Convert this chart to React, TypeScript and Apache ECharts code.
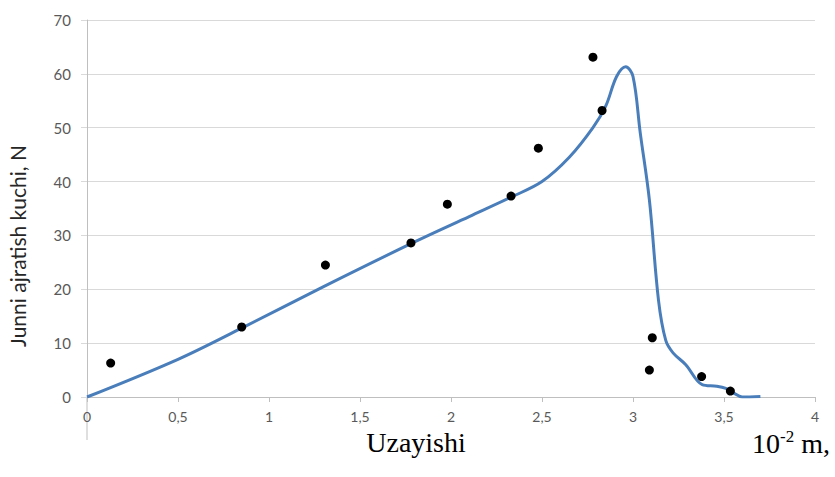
import React, { useEffect, useRef } from "react";
import * as echarts from "echarts";

// Measured points (x in 10^-2 m, force in N)
const pointX = [0.13, 0.85, 1.31, 1.78, 1.98, 2.33, 2.48, 2.78, 2.83, 3.106, 3.09, 3.377, 3.535];
const pointY = [6.3, 13.0, 24.5, 28.6, 35.8, 37.3, 46.2, 63.1, 53.2, 11.0, 5.0, 3.8, 1.1];

// Fitted curve
const curveX = [0, 0.5, 0.85, 1.3, 1.8, 2.1, 2.33, 2.5, 2.65, 2.78, 2.85, 2.91, 2.96, 3.0, 3.04, 3.09, 3.14, 3.18, 3.22, 3.29, 3.38, 3.46, 3.51, 3.55, 3.6, 3.7];
const curveY = [0, 7, 12.8, 20.5, 28.8, 33.5, 37.1, 40, 44.5, 50, 54, 59.5, 61.3, 59.5, 49, 36.6, 18, 10.5, 8.2, 6, 2.3, 2.0, 1.6, 0.8, 0, 0.1];

const xTicks = ["0", "0,5", "1", "1,5", "2", "2,5", "3", "3,5", "4"];
const yTitle = "Junni ajratish kuchi, N";
const xTitle = "Uzayishi";

export default function App() {
  const ref = useRef<HTMLDivElement>(null);
  useEffect(() => {
    if (!ref.current) return;
    const chart = echarts.init(ref.current, undefined, { renderer: "svg" });
    const labelFont = "Lato, 'Open Sans', sans-serif";
    const serif = "'Liberation Serif', 'Times New Roman', serif";
    chart.setOption({
      animation: false,
      backgroundColor: "#ffffff",
      grid: { left: 87, right: 20, top: 20, bottom: 80, containLabel: false },
      xAxis: {
        type: "value",
        min: 0,
        max: 4,
        interval: 0.5,
        axisLine: { show: true, lineStyle: { color: "#bfbfbf", width: 1 } },
        axisTick: { show: true, length: 5, lineStyle: { color: "#bfbfbf" } },
        splitLine: { show: false },
        axisLabel: {
          color: "#595959",
          fontSize: 14,
          fontFamily: labelFont,
          margin: 12,
          formatter: (v: number) => xTicks[Math.round(v * 2)] ?? String(v),
        },
      },
      yAxis: {
        type: "value",
        min: 0,
        max: 70,
        interval: 10,
        axisLine: { show: true, lineStyle: { color: "#bfbfbf", width: 1 } },
        axisTick: { show: true, length: 6, lineStyle: { color: "#d9d9d9" } },
        splitLine: { show: true, lineStyle: { color: "#d9d9d9", width: 1 } },
        axisLabel: { color: "#595959", fontSize: 15, fontFamily: labelFont, margin: 16 },
      },
      graphic: [
        {
          type: "line",
          shape: { x1: 87, y1: 397, x2: 87, y2: 440 },
          style: { stroke: "#bfbfbf", lineWidth: 1 },
          z: 0,
        },
        {
          type: "text",
          x: 17,
          y: 246,
          rotation: Math.PI / 2,
          style: {
            text: yTitle,
            align: "center",
            verticalAlign: "middle",
            fill: "#262626",
            fontSize: 21,
            fontFamily: labelFont,
          },
        },
        {
          type: "text",
          x: 416,
          y: 442,
          style: {
            text: xTitle,
            align: "center",
            verticalAlign: "middle",
            fill: "#000000",
            fontSize: 28,
            fontFamily: serif,
          },
        },
        {
          type: "text",
          x: 752,
          y: 443,
          style: {
            rich: {
              n: { fontSize: 28, fontFamily: serif, fill: "#000" },
              s: { fontSize: 17, fontFamily: serif, fill: "#000", verticalAlign: "top", padding: [0, 0, 14, 0] },
            },
            text: "{n|10}{s|-2}{n| m,}",
            align: "left",
            verticalAlign: "middle",
          },
        },
      ],
      series: [
        {
          type: "line",
          data: curveX.map((x, i) => [x, curveY[i]]),
          smooth: 0.35,
          showSymbol: false,
          symbol: "none",
          lineStyle: { color: "#4a7ebb", width: 3 },
          z: 2,
        },
        {
          type: "scatter",
          data: pointX.map((x, i) => [x, pointY[i]]),
          symbolSize: 9,
          itemStyle: { color: "#000000", opacity: 1 },
          z: 3,
        },
      ],
    });
    return () => chart.dispose();
  }, []);
  return <div ref={ref} style={{ width: 835, height: 477, position: "fixed", left: 0, top: 0 }} />;
}
